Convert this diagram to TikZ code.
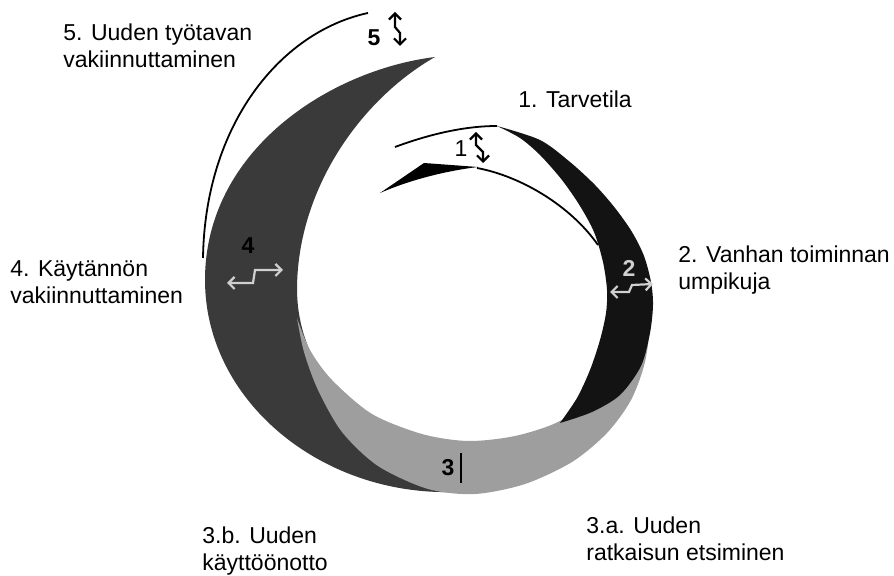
\documentclass[tikz,border=0pt]{standalone}
\usepackage{fontspec}
\setmainfont{Liberation Sans}
\usetikzlibrary{arrows.meta}
\definecolor{ringdark}{HTML}{3A3A3A}
\definecolor{ringgray}{HTML}{9E9E9E}
\definecolor{ringblack}{HTML}{131313}
\definecolor{arrowlight}{HTML}{D0D0D0}

\begin{document}
\begin{tikzpicture}[x=0.5pt, y=-0.5pt,
    phase/.style={font=\fontsize{11.5}{13.5}\selectfont, anchor=north west, align=left, inner sep=0pt},
    num/.style={font=\fontsize{11.5}{13.5}\selectfont\bfseries, inner sep=0pt},
    zig/.style={{Straight Barb[length=3pt,width=6pt]}-{Straight Barb[length=3pt,width=6pt]}, line width=1.1pt}]
  \useasboundingbox (0,0) rectangle (894,576);

  % Stages 4-5: dark crescent on the left
  \fill[ringdark] (435,57) .. controls (330,70) and (205,150) .. (205,280)
    .. controls (205,400) and (320,495) .. (452,492)
    .. controls (390,450) and (298,390) .. (297,290)
    .. controls (297,190) and (360,100) .. (435,57) -- cycle;

  % Stage 3: grey crescent at the bottom
  \fill[ringgray] plot[smooth] coordinates {(297,318) (304,352) (318,390) (342,432) (378,466) (428,489) (475,494) (525,484) (572,462) (607,433) (631,400) (645,362) (650,320) (645,295)}
    -- plot[smooth] coordinates {(645,295) (622,355) (592,398) (558,422) (515,436) (468,441) (422,434) (372,414) (332,380) (310,350) (297,318)} -- cycle;

  % Stages 1-2: black crescent on the right
  \fill[ringblack] plot[smooth] coordinates {(497,126) (540,140) (570,162) (595,185) (615,208) (632,232) (644,256) (651,282) (653,305) (650,333) (641,366) (620,395) (592,412) (560,423)}
    -- plot[smooth] coordinates {(560,423) (577,398) (590,370) (600,340) (606,313) (607,290) (603,262) (594,232) (580,206) (562,180) (540,155) (520,138) (497,126)} -- cycle;

  % thin edges of the spiral
  \draw[line width=0.9pt] (395,147) .. controls (430,134) and (465,126) .. (497,126);
  \draw[line width=0.9pt] (477,168) .. controls (520,176) and (570,205) .. (598,245);
  \draw[line width=0.9pt] (368,13) .. controls (280,32) and (205,125) .. (203,258);
  \fill (380,193) -- (424,163) -- (478,167) .. controls (445,171) and (410,180) .. (380,193) -- cycle;

  % zigzag arrows
  \draw[zig] (395,12) -- (395,27) -- (400,33) -- (400,46);
  \draw[zig] (476,132) -- (476,145) -- (483,152) -- (483,163);
  \draw[zig, arrowlight] (227,283) -- (253,283) -- (255,270) -- (283,270);
  \draw[zig, arrowlight] (610,292) -- (629,292) -- (632,285) -- (653,284);
  \draw[line width=1.1pt] (461,453) -- (461,483);

  % stage numbers
  \node[num] (n5) at (374,38) {5};
  \node[num, font=\fontsize{11.5}{13.5}\selectfont] (n1) at (461,149) {1};
  \node[num, arrowlight] (n2) at (629,268) {2};
  \node[num] (n3) at (448,468) {3};
  \node[num] (n4) at (248,246) {4};

  % stage labels
  \node[phase] (t5) at (63,23) {5. Uuden työtavan\\vakiinnuttaminen};
  \node[phase] (t1) at (518,90) {1. Tarvetila};
  \node[phase] (t2) at (678,245) {2. Vanhan toiminnan\\umpikuja};
  \node[phase] (t4) at (10,260) {4. Käytännön\\vakiinnuttaminen};
  \node[phase] (t3b) at (202,526) {3.b. Uuden\\käyttöönotto};
  \node[phase] (t3a) at (586,516) {3.a. Uuden\\ratkaisun etsiminen};
\end{tikzpicture}
\end{document}
